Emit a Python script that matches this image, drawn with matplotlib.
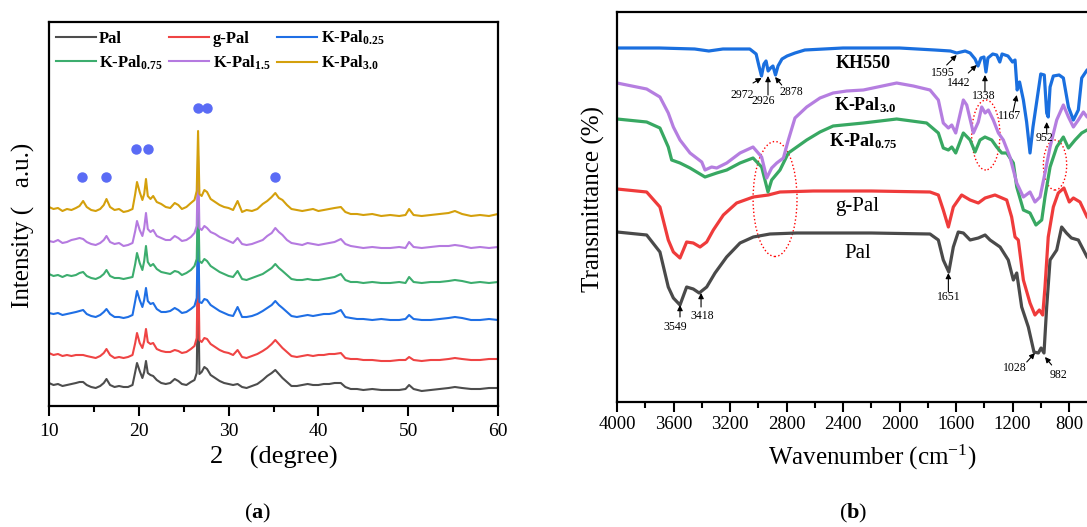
import matplotlib.pyplot as plt
from matplotlib.ticker import MultipleLocator
from matplotlib.patches import Ellipse

plt.rcParams['font.family'] = ['Liberation Serif', 'DejaVu Serif']
plt.rcParams['mathtext.fontset'] = 'custom'
plt.rcParams['mathtext.rm'] = 'Liberation Serif'
plt.rcParams['mathtext.it'] = 'Liberation Serif:italic'
plt.rcParams['mathtext.bf'] = 'Liberation Serif:bold'

# ---------------- (a) XRD data ----------------
two_theta = [10, 10.5, 11, 11.5, 12, 12.5, 13, 13.4, 13.8, 14.2,
             14.7, 15.2, 15.7, 16.1, 16.4, 16.8, 17.3, 17.8, 18.3, 18.8,
             19.3, 19.6, 19.8, 20.1, 20.4, 20.6, 20.8, 21.0, 21.3, 21.6,
             22.0, 22.5, 23.0, 23.5, 24.0, 24.4, 24.8, 25.3, 25.8, 26.2,
             26.45, 26.6, 26.75, 27.0, 27.3, 27.6, 28.0, 28.5, 29.0, 29.5,
             30.0, 30.5, 31.0, 31.5, 32.0, 32.6, 33.2, 33.8, 34.3, 34.8,
             35.2, 35.6, 36.0, 36.5, 37.0, 37.6, 38.2, 38.8, 39.4, 40.0,
             40.6, 41.2, 41.8, 42.5, 43.0, 43.6, 44.3, 45.0, 46.0, 47.0,
             48.0, 49.0, 49.7, 50.1, 50.6, 51.5, 52.5, 53.5, 54.5, 55.2,
             56.0, 57.0, 58.0, 59.0, 60.0]

pal = [23, 21, 22, 20, 21, 22, 23, 24, 24, 21,
       19, 18, 20, 23, 27, 21, 19, 20, 19, 19,
       21, 34, 43, 35, 28, 34, 45, 33, 31, 30,
       26, 23, 22, 23, 27, 25, 22, 21, 24, 26,
       33, 130, 32, 34, 39, 37, 31, 28, 25, 23,
       22, 21, 22, 19, 18, 20, 22, 26, 30, 33,
       36, 32, 28, 24, 20, 20, 21, 22, 21, 21,
       22, 22, 23, 23, 19, 17, 17, 16, 17, 16,
       16, 16, 17, 21, 17, 15, 16, 17, 18, 19,
       18, 17, 17, 18, 18]

g_pal = [53, 51, 52, 50, 51, 50, 51, 51, 51, 50,
         49, 48, 50, 53, 57, 51, 48, 49, 48, 49,
         51, 63, 73, 63, 58, 65, 77, 64, 62, 63,
         57, 55, 54, 54, 56, 55, 53, 54, 57, 60,
         68, 160, 66, 64, 68, 67, 62, 59, 56, 54,
         53, 51, 56, 49, 48, 50, 52, 55, 58, 62,
         66, 62, 58, 54, 50, 49, 50, 51, 50, 51,
         51, 52, 52, 53, 48, 47, 47, 46, 46, 45,
         45, 46, 46, 49, 46, 45, 46, 46, 47, 48,
         47, 46, 46, 47, 47]

k_pal_025 = [93, 92, 93, 91, 92, 93, 94, 95, 96, 92,
             90, 89, 91, 94, 97, 92, 89, 89, 88, 89,
             91, 105, 115, 106, 99, 106, 118, 105, 102, 103,
             97, 94, 94, 95, 98, 96, 93, 94, 97, 100,
             108, 190, 104, 103, 107, 106, 101, 98, 95, 93,
             91, 90, 99, 89, 89, 90, 92, 95, 98, 101,
             105, 101, 98, 94, 90, 89, 90, 91, 90, 91,
             92, 92, 93, 96, 89, 88, 87, 87, 86, 87,
             86, 86, 87, 91, 87, 86, 86, 87, 88, 89,
             88, 86, 86, 87, 86]

k_pal_075 = [132, 130, 131, 129, 131, 130, 131, 133, 134, 130,
             128, 127, 129, 132, 136, 130, 128, 128, 127, 128,
             129, 142, 153, 143, 136, 145, 160, 144, 140, 142,
             137, 134, 133, 132, 135, 134, 131, 133, 136, 140,
             147, 220, 145, 143, 147, 145, 140, 137, 134, 132,
             130, 129, 135, 127, 126, 128, 130, 132, 135, 138,
             142, 138, 135, 131, 127, 126, 126, 127, 126, 126,
             127, 128, 129, 132, 126, 124, 124, 123, 124, 123,
             123, 124, 123, 129, 124, 123, 124, 124, 125, 126,
             125, 123, 124, 123, 124]

k_pal_15 = [165, 164, 166, 163, 164, 166, 167, 168, 167, 164,
            162, 161, 163, 166, 170, 164, 162, 163, 160, 161,
            163, 175, 185, 176, 170, 178, 193, 177, 174, 176,
            170, 168, 166, 166, 170, 168, 165, 166, 169, 173,
            180, 250, 178, 176, 180, 178, 174, 172, 169, 167,
            165, 163, 168, 162, 161, 162, 164, 166, 170, 173,
            178, 174, 171, 166, 163, 162, 161, 163, 162, 161,
            162, 163, 164, 167, 162, 160, 159, 158, 159, 158,
            158, 159, 158, 164, 159, 158, 159, 160, 160, 161,
            160, 158, 159, 158, 159]

k_pal_30 = [199, 197, 198, 195, 197, 196, 198, 200, 205, 199,
            196, 195, 197, 201, 207, 199, 196, 197, 194, 195,
            197, 212, 224, 214, 206, 212, 227, 210, 207, 210,
            204, 202, 199, 198, 203, 201, 197, 199, 203, 206,
            215, 275, 212, 210, 216, 214, 207, 204, 201, 199,
            198, 196, 205, 194, 196, 195, 197, 202, 205, 209,
            213, 208, 206, 201, 197, 196, 195, 196, 197, 195,
            196, 197, 198, 199, 194, 192, 192, 191, 192, 190,
            191, 190, 191, 197, 191, 190, 191, 192, 193, 195,
            192, 190, 191, 190, 192]

xrd_names = ['Pal', 'g-Pal', r'K-Pal$_{\mathbf{0.25}}$',
             r'K-Pal$_{\mathbf{0.75}}$', r'K-Pal$_{\mathbf{1.5}}$', r'K-Pal$_{\mathbf{3.0}}$']
xrd_colors = ['#4d4d4d', '#ef4444', '#1f6fe5', '#3cad6e', '#b57ae0', '#d4a00c']

# palygorskite reflections marked with dots
dot_x = [13.7, 16.4, 19.7, 21.0, 26.55, 27.65, 35.2]
dot_y = [229, 229, 257, 257, 298, 298, 229]

# ---------------- (b) FTIR data ----------------
kh550_wn = [4000, 3700, 3450, 3350, 3250, 3060, 3015, 2995, 2977, 2960,
            2945, 2930, 2913, 2896, 2878, 2860, 2832, 2796, 2740, 2670,
            2400, 2000, 1750, 1640, 1595, 1535, 1500, 1465, 1444, 1423,
            1402, 1388, 1374, 1340, 1312, 1290, 1274, 1232, 1200, 1182,
            1167, 1150, 1123, 1100, 1076, 1055, 1029, 1000, 975, 958,
            947, 934, 911, 870, 840, 804, 769, 734, 710, 672, 640]
kh550_t = [354, 354, 353, 351, 353, 353, 348, 336, 326, 338,
           341, 331, 334, 336, 327, 336, 343, 346, 349, 352,
           354, 354, 352, 351, 349, 351, 349, 343, 336, 344,
           345, 330, 344, 348, 347, 340, 348, 346, 340, 342,
           312, 320, 302, 280, 249, 275, 300, 328, 327, 289,
           285, 315, 326, 327, 324, 295, 282, 292, 324, 332, 335]

kp30_wn = [4000, 3790, 3696, 3637, 3601, 3554, 3483, 3400, 3377, 3330,
           3294, 3223, 3129, 3037, 2976, 2940, 2905, 2869, 2822, 2787,
           2740, 2657, 2563, 2470, 2374, 2256, 2020, 1902, 1784, 1725,
           1690, 1654, 1630, 1602, 1548, 1524, 1477, 1442, 1418, 1394,
           1371, 1336, 1300, 1265, 1218, 1194, 1170, 1123, 1076, 1041,
           1005, 970, 934, 887, 840, 804, 769, 734, 698, 672, 640]
kp30_t = [319, 313, 305, 289, 275, 262, 249, 240, 232, 235,
          234, 239, 249, 255, 245, 224, 234, 239, 244, 262,
          284, 295, 304, 309, 311, 312, 319, 316, 312, 302,
          279, 274, 277, 269, 302, 297, 269, 280, 295, 289,
          292, 282, 269, 262, 245, 232, 219, 205, 210, 200,
          205, 229, 255, 282, 297, 285, 275, 282, 290, 285, 283]

kp075_wn = [4000, 3790, 3696, 3637, 3613, 3554, 3483, 3377, 3294, 3223,
            3129, 3037, 2976, 2931, 2905, 2846, 2787, 2657, 2563, 2470,
            2256, 2020, 1808, 1725, 1690, 1654, 1630, 1602, 1548, 1500,
            1465, 1430, 1395, 1347, 1312, 1276, 1241, 1194, 1170, 1123,
            1076, 1034, 993, 970, 934, 887, 840, 804, 757, 710, 672, 640]
kp075_t = [283, 280, 274, 255, 242, 239, 234, 225, 229, 232,
           239, 244, 235, 210, 222, 232, 249, 262, 270, 276,
           279, 283, 279, 269, 254, 252, 255, 249, 269, 262,
           250, 262, 265, 262, 255, 249, 249, 239, 215, 192,
           189, 177, 182, 205, 235, 255, 265, 254, 262, 269, 272, 273]

gpal_wn = [4000, 3790, 3696, 3637, 3601, 3554, 3507, 3460, 3412, 3365,
           3318, 3247, 3153, 3035, 2929, 2846, 2610, 2200, 1784, 1725,
           1690, 1654, 1619, 1560, 1500, 1442, 1394, 1324, 1241, 1206,
           1182, 1159, 1123, 1076, 1041, 1010, 986, 970, 947, 911,
           876, 836, 798, 769, 722, 672, 640]
gpal_t = [213, 210, 195, 162, 150, 144, 160, 159, 155, 160,
          172, 187, 199, 205, 207, 210, 211, 211, 210, 207,
          192, 175, 195, 207, 202, 199, 204, 207, 202, 185,
          165, 162, 122, 99, 87, 92, 87, 115, 165, 195,
          209, 214, 200, 204, 200, 185, 180]

pal_wn = [4000, 3790, 3696, 3637, 3601, 3554, 3507, 3460, 3418, 3365,
          3306, 3224, 3129, 3035, 2917, 2728, 2200, 1784, 1725, 1690,
          1651, 1619, 1584, 1548, 1500, 1442, 1394, 1359, 1288, 1230,
          1194, 1170, 1135, 1088, 1048, 1017, 998, 977, 958, 934,
          887, 852, 818, 783, 734, 672, 640]
pal_t = [170, 167, 150, 115, 104, 97, 115, 113, 109, 115,
         129, 145, 159, 165, 168, 169, 169, 168, 162, 142,
         130, 155, 170, 169, 162, 164, 167, 162, 155, 142,
         122, 129, 95, 75, 50, 49, 54, 49, 95, 142,
         152, 175, 169, 164, 162, 145, 140]

# peak labels: text, text position, arrow tail, arrow tip
peak_labels = ['2972', '2926', '2878', '1595', '1442', '1338', '1167', '952',
               '3549', '3418', '1651', '1028', '982']
peak_text_xy = [(3115, 307), (2966, 301), (2768, 310), (1692, 329), (1579, 319),
                (1402, 306), (1218, 286), (970, 264), (3589, 75), (3398, 86),
                (1649, 105), (1182, 34), (871, 27)]
peak_tail = [(3037, 319), (2931, 307), (2834, 317), (1666, 337), (1513, 329),
             (1395, 310), (1196, 290), (958, 268), (3554, 85), (3405, 95),
             (1654, 110), (1099, 40), (923, 37)]
peak_tip = [(2976, 324), (2931, 326), (2881, 325), (1595, 347), (1453, 337),
            (1395, 327), (1170, 307), (958, 280), (3554, 97), (3405, 109),
            (1654, 129), (1041, 49), (970, 45)]

# red dotted ellipses: centre, width (cm-1), height
ell_center = [(2881, 203), (1389, 267), (899, 237)]
ell_w = [311, 200, 165]
ell_h = [115, 70, 50]

W, H = 1087, 527
fig = plt.figure(figsize=(W / 100, H / 100), dpi=100)

# ================= panel (a) =================
ax1 = fig.add_axes([49 / W, 1 - 406 / H, 449 / W, 384 / H])
xrd_series = [pal, g_pal, k_pal_025, k_pal_075, k_pal_15, k_pal_30]
lines = []
for ys, name, col in zip(xrd_series, xrd_names, xrd_colors):
    ln, = ax1.plot(two_theta, ys, color=col, lw=1.5, label=name)
    lines.append(ln)
ax1.plot(dot_x, dot_y, 'o', color='#5a6bf5', ms=6.5, ls='none')

ax1.set_xlim(10, 60)
ax1.set_ylim(0, 384)
ax1.xaxis.set_major_locator(MultipleLocator(10))
ax1.xaxis.set_minor_locator(MultipleLocator(5))
ax1.set_yticks([])
ax1.tick_params(axis='x', which='major', direction='out', length=7, width=1.5,
                labelsize=14, pad=5)
ax1.tick_params(axis='x', which='minor', direction='out', length=4, width=1.5)
for sp in ax1.spines.values():
    sp.set_linewidth(1.6)

order = [0, 3, 1, 4, 2, 5]
ax1.legend([lines[i] for i in order], [xrd_names[i] for i in order], ncol=3,
           loc='upper left', bbox_to_anchor=(0, 1), frameon=False,
           prop={'weight': 'bold', 'size': 12}, handlelength=2.4,
           handletextpad=0.2, columnspacing=0.4, labelspacing=0.4,
           borderaxespad=0.2, borderpad=0.2)

fig.text(274 / W, 1 - 457 / H, '2    (degree)', fontsize=19, ha='center', va='center')
fig.text(23 / W, 1 - 225 / H, 'Intensity (   a.u.)', fontsize=18, rotation=90,
         ha='center', va='center')
fig.text(258 / W, 1 - 513 / H, r'($\mathbf{a}$)', fontsize=16, ha='center', va='center')

# ================= panel (b) =================
ax2 = fig.add_axes([617 / W, 1 - 402 / H, 508.5 / W, 390 / H])
ax2.plot(pal_wn, pal_t, color='#4a4a4a', lw=2.3)
ax2.plot(gpal_wn, gpal_t, color='#ef3b3b', lw=2.3)
ax2.plot(kp075_wn, kp075_t, color='#38a862', lw=2.3)
ax2.plot(kp30_wn, kp30_t, color='#b57ee0', lw=2.3)
ax2.plot(kh550_wn, kh550_t, color='#1a6fdf', lw=2.3)

for c, w, h in zip(ell_center, ell_w, ell_h):
    ax2.add_patch(Ellipse(c, w, h, fill=False, ec='red', ls=':', lw=1.0))

for lab, txy, tail, tip in zip(peak_labels, peak_text_xy, peak_tail, peak_tip):
    ax2.text(txy[0], txy[1], lab, fontsize=8.5, ha='center', va='center')
    ax2.annotate('', xy=tip, xytext=tail,
                 arrowprops=dict(arrowstyle='-|>', color='black', lw=0.8,
                                 mutation_scale=8, shrinkA=0, shrinkB=0))

ax2.text(2258, 339, 'KH550', fontsize=13, fontweight='bold', ha='center', va='center')
ax2.text(2244, 297, r'K-Pal$_{\mathbf{3.0}}$', fontsize=13, fontweight='bold',
         ha='center', va='center')
ax2.text(2258, 261, r'K-Pal$_{\mathbf{0.75}}$', fontsize=13, fontweight='bold',
         ha='center', va='center')
ax2.text(2301, 195, 'g-Pal', fontsize=15, ha='center', va='center')
ax2.text(2294, 149, 'Pal', fontsize=15, ha='center', va='center')

ax2.set_xlim(4000, 400)
ax2.set_ylim(0, 390)
ax2.xaxis.set_major_locator(MultipleLocator(400))
ax2.xaxis.set_minor_locator(MultipleLocator(200))
ax2.set_yticks([])
ax2.tick_params(axis='x', which='major', direction='out', length=7, width=1.5,
                labelsize=13.5, pad=3)
ax2.tick_params(axis='x', which='minor', direction='out', length=4, width=1.5)
for sp in ax2.spines.values():
    sp.set_linewidth(1.6)

fig.text(872 / W, 1 - 457 / H, r'Wavenumber (cm$^{\mathregular{-1}}$)', fontsize=18,
         ha='center', va='center')
fig.text(593 / W, 1 - 199 / H, 'Transmittance (%)', fontsize=18, rotation=90,
         ha='center', va='center')
fig.text(853 / W, 1 - 513 / H, r'($\mathbf{b}$)', fontsize=16, ha='center', va='center')

fig.savefig('out.png', dpi=100)
